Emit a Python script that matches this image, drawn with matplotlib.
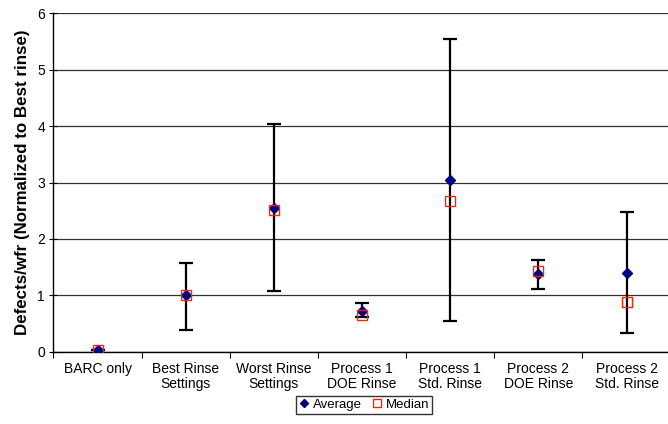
import numpy as np
import matplotlib
matplotlib.use('Agg')
from matplotlib import pyplot as plt

categories = ['BARC only', 'Best Rinse\nSettings', 'Worst Rinse\nSettings',
              'Process 1\nDOE Rinse', 'Process 1\nStd. Rinse',
              'Process 2\nDOE Rinse', 'Process 2\nStd. Rinse']
average = [0.03, 1.0, 2.55, 0.73, 3.05, 1.38, 1.40]
median = [0.03, 1.0, 2.51, 0.66, 2.67, 1.44, 0.88]
err_low = [0.03, 0.39, 1.08, 0.62, 0.55, 1.11, 0.33]
err_high = [0.03, 1.58, 4.03, 0.86, 5.54, 1.63, 2.48]

plt.rcParams['font.family'] = ['Liberation Sans', 'DejaVu Sans']

fig = plt.figure(figsize=(6.68, 4.24), dpi=100)
# plot area runs a little past the right edge of the canvas
ax = fig.add_axes([0.080, 0.170, 0.924, 0.799])

x = np.arange(len(categories))
avg = np.array(average)
yerr = [avg - np.array(err_low), np.array(err_high) - avg]

ax.errorbar(x, avg, yerr=yerr, fmt='none', ecolor='black', elinewidth=1.6,
            capsize=5, capthick=1.6, zorder=3)
ax.plot(x, avg, linestyle='none', marker='D', markersize=5.5, color='#000080',
        label='Average', zorder=4)
ax.plot(x, median, linestyle='none', marker='s', markersize=7, markerfacecolor='none',
        markeredgecolor='#ff2000', markeredgewidth=1.0, label='Median', zorder=5)

ax.set_xlim(-0.5, len(categories) - 0.5)
ax.set_ylim(0, 6)
ax.set_yticks(range(0, 7))
ax.tick_params(axis='y', labelsize=10, direction='inout', length=6, width=0.8, pad=3)
ax.set_xticks(np.arange(len(categories) + 1) - 0.5, minor=False)
ax.set_xticklabels([])
ax.set_xticks(x, minor=True)
ax.set_xticklabels(categories, minor=True, fontsize=10, linespacing=1.15)
ax.tick_params(axis='x', which='major', direction='out', length=4, width=0.8)
ax.tick_params(axis='x', which='minor', length=0, pad=7)
ax.yaxis.grid(True, color='#333333', linewidth=0.9)
ax.set_axisbelow(True)

for side in ['top', 'right']:
    ax.spines[side].set_visible(False)
ax.spines['left'].set_linewidth(1.0)
ax.spines['bottom'].set_linewidth(1.0)

ax.set_ylabel('Defects/wfr (Normalized to Best rinse)', fontsize=12.2,
              fontweight='bold', labelpad=5)

fig.legend(loc='center', bbox_to_anchor=(0.545, 0.045), ncol=2, fontsize=9.5,
           frameon=True, fancybox=False, edgecolor='black', handletextpad=0.25,
           columnspacing=0.8, borderpad=0.2, handlelength=0.8, markerscale=0.8)

fig.savefig('out.png', dpi=100)
